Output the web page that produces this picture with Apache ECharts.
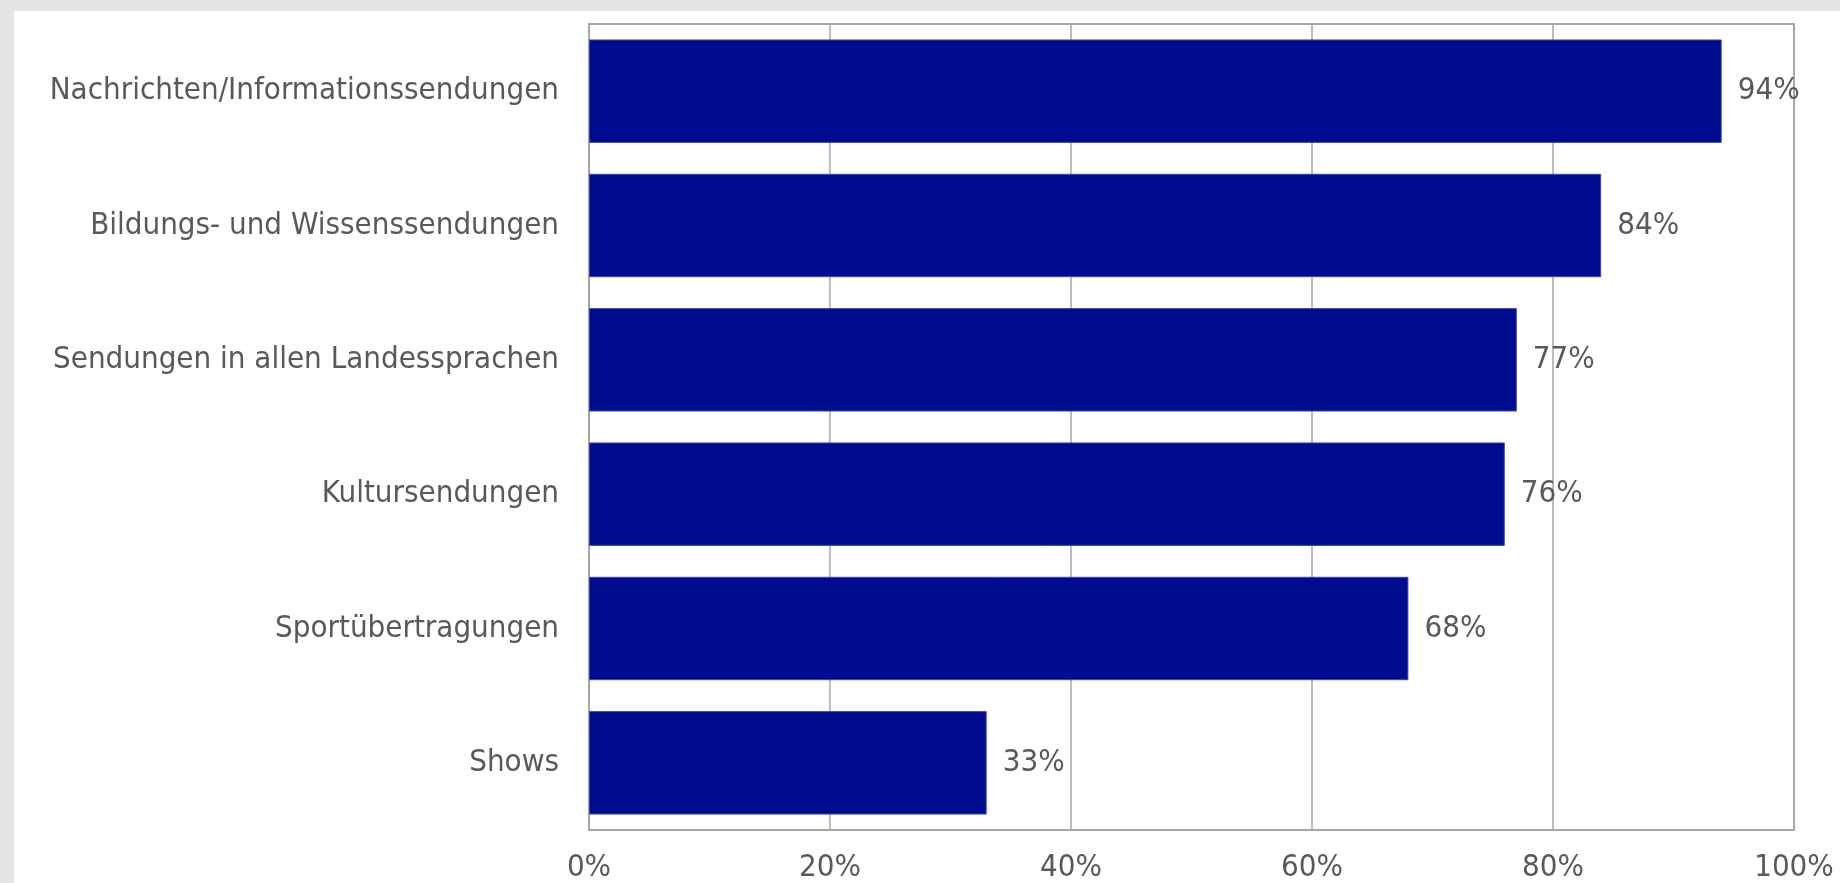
<!DOCTYPE html>
<html>
<head>
<meta charset="utf-8">
<script src="https://cdn.jsdelivr.net/npm/echarts@6/dist/echarts.min.js"></script>
<style>
  html, body { margin: 0; padding: 0; background: #e4e4e4; width: 1840px; height: 883px; overflow: hidden; }
  #panel { position: absolute; left: 14px; top: 11px; width: 1826px; height: 872px; background: #ffffff; }
  #chart { width: 100%; height: 100%; }
</style>
</head>
<body>
<div id="panel"><div id="chart"></div></div>
<script>
// Categories listed bottom-to-top (ECharts draws the first category at the bottom)
const categories = [
  'Shows',
  'Sportübertragungen',
  'Kultursendungen',
  'Sendungen in allen Landessprachen',
  'Bildungs- und Wissenssendungen',
  'Nachrichten/Informationssendungen'
];
const shares = [33, 68, 76, 77, 84, 94];
const xTicks = [0, 20, 40, 60, 80, 100];

const textColor = '#595959';
const lineColor = '#a6a6a6';
const fontFamily = '"DejaVu Sans Condensed", "DejaVu Sans", sans-serif';
const fontSize = 31;

const chart = echarts.init(document.getElementById('chart'));
chart.setOption({
  animation: false,
  textStyle: { fontFamily: fontFamily },
  grid: {
    left: 575, right: 46, top: 13, bottom: 50,
    show: true, borderColor: lineColor, borderWidth: 2, containLabel: false
  },
  xAxis: {
    type: 'value',
    min: xTicks[0], max: xTicks[xTicks.length - 1], interval: 20,
    axisLine: { show: true, lineStyle: { color: lineColor, width: 2 } },
    axisTick: { show: false },
    splitLine: { show: true, lineStyle: { color: lineColor, width: 1.5 } },
    axisLabel: {
      color: textColor, fontSize: fontSize, fontFamily: fontFamily, margin: 22,
      formatter: v => v + '%'
    }
  },
  yAxis: {
    type: 'category',
    data: categories,
    axisLine: { show: true, lineStyle: { color: lineColor, width: 2 } },
    axisTick: { show: false },
    axisLabel: { color: textColor, fontSize: fontSize, fontFamily: fontFamily, margin: 30 }
  },
  series: [{
    type: 'bar',
    data: shares,
    barCategoryGap: '23%',
    itemStyle: { color: '#000c8f', borderColor: '#3f4aa6', borderWidth: 1 },
    label: {
      show: true, position: 'right', distance: 16,
      color: textColor, fontSize: fontSize, fontFamily: fontFamily,
      formatter: p => p.value + '%'
    }
  }]
});
</script>
</body>
</html>
